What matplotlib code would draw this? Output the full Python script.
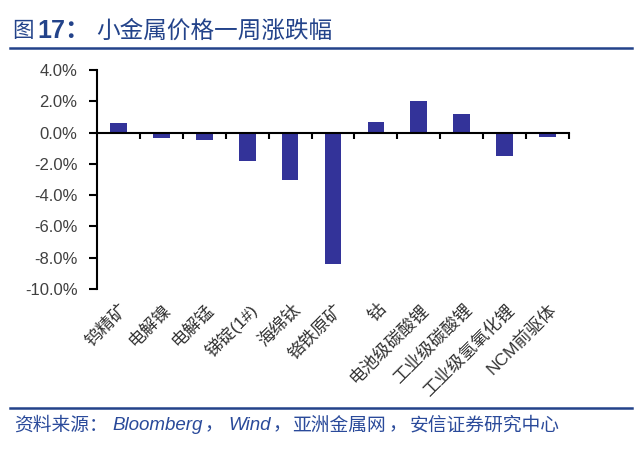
import matplotlib
matplotlib.use("Agg")
import matplotlib.pyplot as plt
from matplotlib.lines import Line2D
import numpy as np

categories = ["钨精矿", "电解镍", "电解锰", "锑锭(1#)", "海绵钛", "铬铁原矿", "钴",
              "电池级碳酸锂", "工业级碳酸锂", "工业级氢氧化锂", "NCM前驱体"]
values = [0.58, -0.33, -0.48, -1.80, -3.00, -8.40, 0.70, 2.02, 1.17, -1.47, -0.28]
yticks = [4, 2, 0, -2, -4, -6, -8, -10]

W, H = 640, 453
CJK = ['Noto Sans CJK SC', 'DejaVu Sans']
LAT = ['Liberation Sans', 'Noto Sans CJK SC', 'DejaVu Sans']
plt.rcParams['font.family'] = LAT

fig = plt.figure(figsize=(W / 100, H / 100), dpi=100)
ax = fig.add_axes([97 / W, 1 - 289 / H, (569 - 97) / W, (289 - 70) / H])

x = np.arange(len(categories))
ax.bar(x, values, width=0.39, color="#333399", zorder=3)

ax.set_xlim(-0.5, len(categories) - 0.5)
ax.set_ylim(-10, 4)
ax.set_yticks(yticks)
ax.set_yticklabels([f"{v:.1f}%" for v in yticks], fontsize=12, color="#404040")

for s in ["top", "right"]:
    ax.spines[s].set_visible(False)
ax.spines["left"].set_linewidth(1.5)
ax.spines["bottom"].set_position(("data", 0))
ax.spines["bottom"].set_linewidth(1.5)
ax.spines["bottom"].set_zorder(4)
ax.tick_params(axis="y", direction="out", length=6, width=1.5, pad=8)

ax.set_xticks(np.arange(0.5, len(categories), 1.0))
ax.set_xticklabels([])
ax.tick_params(axis="x", direction="out", length=4, width=1.5)

for i, c in enumerate(categories):
    ax.text(i + 0.03, -0.055, c, transform=ax.get_xaxis_transform(), rotation=45,
            rotation_mode="anchor", ha="right", va="top", fontsize=12.5, color="#333333",
            family=LAT)

def fx(px):
    return px / W

def fy(py):
    return 1 - py / H

title_color = "#23438A"
fig.text(fx(12), fy(31), "图", fontsize=15.5, color=title_color, va="center", ha="left",
         family=CJK)
fig.text(fx(37), fy(31), "17：", fontsize=18, color=title_color, fontweight="bold",
         va="center", ha="left", family=LAT)
fig.text(fx(96), fy(31), "小金属价格一周涨跌幅", fontsize=17, color=title_color,
         va="center", ha="left", family=CJK)
fig.add_artist(Line2D([fx(10), fx(632)], [fy(47.5), fy(47.5)], transform=fig.transFigure,
                      color=title_color, lw=1.8))
fig.add_artist(Line2D([fx(10), fx(632)], [fy(408), fy(408)], transform=fig.transFigure,
                      color=title_color, lw=1.8))

src_color = "#2A4A9A"
segments = [(14, "资料来源：", "cjk"), (112, "Bloomberg", "lat"), (205, "，", "cjk"),
            (228, "Wind", "lat"), (273, "，", "cjk"), (292, "亚洲金属网", "cjk"),
            (389, "，", "cjk"), (410, "安信证券研究中心", "cjk")]
for px, t, kind in segments:
    if kind == "cjk":
        fig.text(fx(px), fy(425), t, fontsize=13.5, color=src_color, va="center", ha="left",
                 family=CJK)
    else:
        fig.text(fx(px), fy(425), t, fontsize=13.5, color=src_color, style="italic",
                 va="center", ha="left", family=LAT)

fig.savefig("out.png", dpi=100)
